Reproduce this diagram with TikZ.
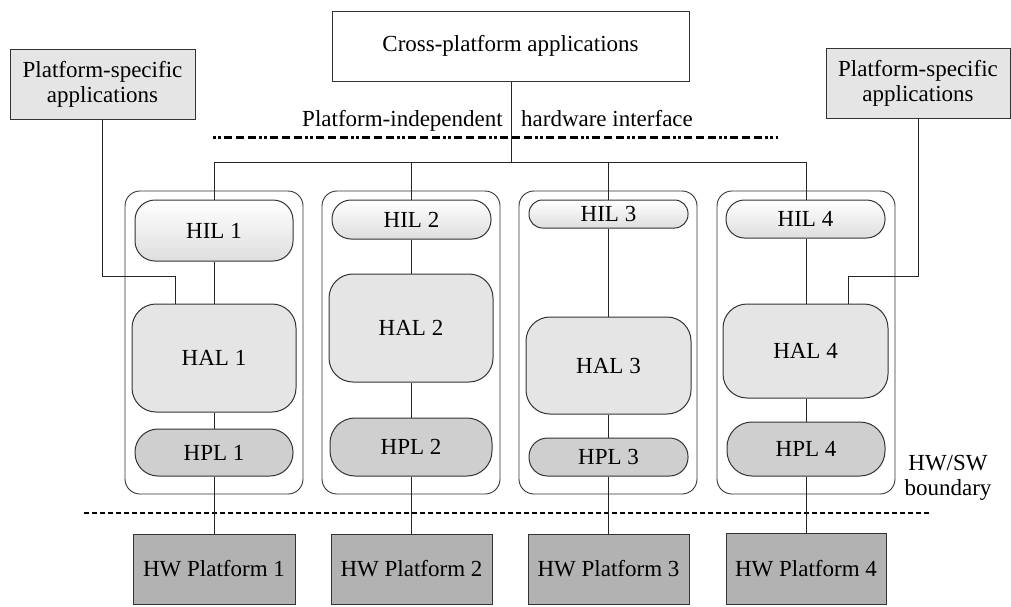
\documentclass[tikz,border=0pt]{standalone}
\usepackage{fontspec}
\setmainfont{Liberation Serif}
\begin{document}
\begin{tikzpicture}[x=1pt,y=-1pt,
  every node/.style={font=\fontsize{23}{25}\selectfont, inner sep=0pt, text=black},
  bx/.style={draw=black!80, line width=1pt},
  plainbox/.style={bx, fill=white},
  psbox/.style={bx, fill=black!10, align=center},
  colbox/.style={draw=black!80, line width=0.9pt, rounded corners=15pt},
  hil/.style={bx, top color=white, bottom color=black!13},
  hal/.style={bx, fill=black!10, rounded corners=24pt},
  hpl/.style={bx, fill=black!19},
  hw/.style={bx, fill=black!30},
  conn/.style={draw=black!85, line width=0.9pt},
  lbl/.style={align=center}
]
\useasboundingbox (0,0) rectangle (1011,606);

% top boxes
\node[plainbox, minimum width=357pt, minimum height=70pt] (cross) at (510.5,46) {Cross-platform applications};
\node[psbox, minimum width=185pt, minimum height=70pt] (psL) at (102.5,84) {Platform-specific\\[0pt]applications};
\node[psbox, minimum width=184pt, minimum height=70pt] (psR) at (918,83) {Platform-specific\\[0pt]applications};

% interface label and line
\node[anchor=base] (pil) at (402.5,126) {Platform-independent};
\node[anchor=base] (pir) at (607,126) {hardware interface};
\coordinate (dl) at (213,137);
\coordinate (dr) at (778,137);
\draw[line width=3pt, dash pattern=on 2.5pt off 2.5pt on 2.5pt off 3pt on 8pt off 4pt on 8pt off 4pt on 8pt off 3.5pt] (dl) -- (dr);

% column containers
\node[colbox, minimum width=178pt, minimum height=303pt] (c1) at (214,342.5) {};
\node[colbox, minimum width=178pt, minimum height=303pt] (c2) at (411,342.5) {};
\node[colbox, minimum width=178pt, minimum height=303pt] (c3) at (608,342.5) {};
\node[colbox, minimum width=178pt, minimum height=303pt] (c4) at (806,342.5) {};

% HIL
\node[hil, rounded corners=20pt, minimum width=158pt, minimum height=61pt] (hil1) at (214,230.5) {HIL 1};
\node[hil, rounded corners=19pt, minimum width=159pt, minimum height=39pt] (hil2) at (411.5,219.5) {HIL 2};
\node[hil, rounded corners=13.5pt, minimum width=159pt, minimum height=28pt] (hil3) at (608.5,214) {HIL 3};
\node[hil, rounded corners=18.5pt, minimum width=159pt, minimum height=38pt] (hil4) at (805.5,219) {HIL 4};

% HAL
\node[hal, minimum width=164pt, minimum height=108pt] (hal1) at (214,358) {HAL 1};
\node[hal, minimum width=164pt, minimum height=108pt] (hal2) at (411,328) {HAL 2};
\node[hal, minimum width=165pt, minimum height=97pt] (hal3) at (608.5,365.5) {HAL 3};
\node[hal, minimum width=165pt, minimum height=94pt] (hal4) at (805.5,351) {HAL 4};

% HPL
\node[hpl, rounded corners=23pt, minimum width=158pt, minimum height=47pt] (hpl1) at (214,452.5) {HPL 1};
\node[hpl, rounded corners=25pt, minimum width=162pt, minimum height=58pt] (hpl2) at (411,447) {HPL 2};
\node[hpl, rounded corners=18.5pt, minimum width=159pt, minimum height=38pt] (hpl3) at (608.5,457) {HPL 3};
\node[hpl, rounded corners=25pt, minimum width=158pt, minimum height=54pt] (hpl4) at (806,449) {HPL 4};

% HW/SW boundary
\coordinate (bl) at (84,513);
\coordinate (br) at (929,513);
\draw[line width=2.6pt, dash pattern=on 5pt off 3pt] (bl) -- (br);
\node[lbl] (hwsw) at (948,478) {HW/SW\\[0pt]boundary};

% HW platforms
\node[hw, minimum width=162pt, minimum height=70pt] (hw1) at (214,569) {HW Platform 1};
\node[hw, minimum width=161pt, minimum height=70pt] (hw2) at (411.5,569) {HW Platform 2};
\node[hw, minimum width=161pt, minimum height=70pt] (hw3) at (608.5,569) {HW Platform 3};
\node[hw, minimum width=160pt, minimum height=71pt] (hw4) at (806,568.5) {HW Platform 4};

% bus from cross-platform apps
\coordinate (bus) at (511,162);
\coordinate (b1) at (214,162);
\coordinate (b2) at (411,162);
\coordinate (b3) at (608,162);
\coordinate (b4) at (806,162);
\draw[conn] (cross.south -| bus) -- (bus);
\draw[conn] (b1) -- (b4);
\draw[conn] (b1) -- (hil1.north);
\draw[conn] (b2) -- (hil2.north -| b2);
\draw[conn] (b3) -- (hil3.north -| b3);
\draw[conn] (b4) -- (hil4.north -| b4);

% vertical stacks
\draw[conn] (hil1.south) -- (hal1.north);
\draw[conn] (hal1.south) -- (hpl1.north);
\draw[conn] (hpl1.south) -- (hw1.north);
\draw[conn] (hil2.south -| b2) -- (hal2.north -| b2);
\draw[conn] (hal2.south -| b2) -- (hpl2.north -| b2);
\draw[conn] (hpl2.south -| b2) -- (hw2.north -| b2);
\draw[conn] (hil3.south -| b3) -- (hal3.north -| b3);
\draw[conn] (hal3.south -| b3) -- (hpl3.north -| b3);
\draw[conn] (hpl3.south -| b3) -- (hw3.north -| b3);
\draw[conn] (hil4.south -| b4) -- (hal4.north -| b4);
\draw[conn] (hal4.south -| b4) -- (hpl4.north -| b4);
\draw[conn] (hpl4.south -| b4) -- (hw4.north -| b4);

% platform-specific connectors
\coordinate (kL) at (175,276);
\coordinate (kR) at (848,276);
\draw[conn] (psL.south) |- (kL) -- (kL |- hal1.north);
\draw[conn] (psR.south) |- (kR) -- (kR |- hal4.north);
\end{tikzpicture}
\end{document}
